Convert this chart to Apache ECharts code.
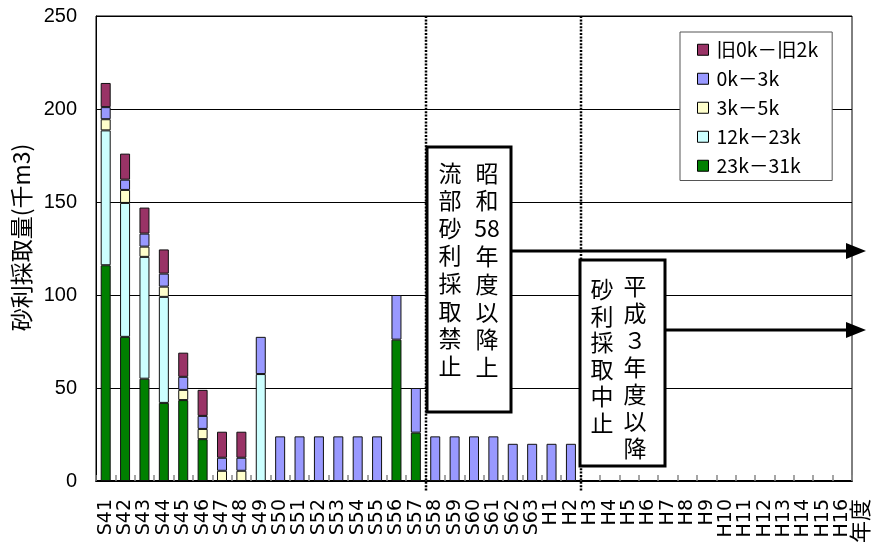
<!DOCTYPE html>
<html>
<head>
<meta charset="utf-8">
<script src="https://cdn.jsdelivr.net/npm/echarts@6/dist/echarts.min.js"></script>
<style>
  html, body { margin: 0; padding: 0; background: #fff; }
  #chart { width: 873px; height: 542px; }
</style>
</head>
<body>
<div id="chart"></div>
<script>
// 年度 (昭和41年度〜平成16年度)
const categories = [
  'S41','S42','S43','S44','S45','S46','S47','S48','S49','S50',
  'S51','S52','S53','S54','S55','S56','S57','S58','S59','S60',
  'S61','S62','S63','H1','H2','H3','H4','H5','H6','H7',
  'H8','H9','H10','H11','H12','H13','H14','H15','H16'
];

// 区間別の砂利採取量 (千m3)
const sec23k31k = [116, 77.5, 55, 42, 43.5, 22.5, null, null, null, null,
  null, null, null, null, null, 76, 26, null, null, null,
  null, null, null, null, null, null, null, null, null, null,
  null, null, null, null, null, null, null, null, null];
const sec12k23k = [72.5, 72, 65.5, 57, null, null, null, null, 57.5, null,
  null, null, null, null, null, null, null, null, null, null,
  null, null, null, null, null, null, null, null, null, null,
  null, null, null, null, null, null, null, null, null];
const sec3k5k = [6, 7, 5.5, 5.5, 5.5, 5.5, 5.5, 5.5, null, null,
  null, null, null, null, null, null, null, null, null, null,
  null, null, null, null, null, null, null, null, null, null,
  null, null, null, null, null, null, null, null, null];
const sec0k3k = [6.5, 5.5, 7, 7, 7, 7, 7, 7, 20, 24,
  24, 24, 24, 24, 24, 24, 24, 24, 24, 24,
  24, 20, 20, 20, 20, null, null, null, null, null,
  null, null, null, null, null, null, null, null, null];
const secOld0k2k = [13, 14, 14, 13, 13, 14, 14, 14, null, null,
  null, null, null, null, null, null, null, null, null, null,
  null, null, null, null, null, null, null, null, null, null,
  null, null, null, null, null, null, null, null, null];

const yTicks = { min: 0, max: 250, interval: 50 };

const seriesDefs = [
  { name: '23k－31k', data: sec23k31k, color: '#008000' },
  { name: '12k－23k', data: sec12k23k, color: '#CCFFFF' },
  { name: '3k－5k', data: sec3k5k, color: '#FFFFCC' },
  { name: '0k－3k', data: sec0k3k, color: '#9999FF' },
  { name: '旧0k－旧2k', data: secOld0k2k, color: '#993366' }
];

const JP = "'Noto Sans CJK JP', 'Noto Sans', sans-serif";
const NUM = "'Liberation Sans', Arial, sans-serif";
const WIDE = "'DejaVu Sans', 'Liberation Sans', sans-serif";

const chart = echarts.init(document.getElementById('chart'), null, { renderer: 'canvas' });

chart.setOption({
  animation: false,
  backgroundColor: '#fff',
  grid: {
    left: 96, right: 21, top: 16, bottom: 61,
    show: true, borderColor: '#000', borderWidth: 1, backgroundColor: '#fff'
  },
  legend: {
    data: seriesDefs.map(s => s.name).reverse(),
    orient: 'vertical',
    left: 680, top: 32,
    padding: [8, 14, 5, 17],
    itemGap: 9.5,
    itemWidth: 11, itemHeight: 11,
    icon: 'rect',
    backgroundColor: '#fff',
    borderColor: '#555', borderWidth: 1, borderRadius: 0,
    itemStyle: { borderColor: '#000', borderWidth: 1 },
    textStyle: { fontFamily: JP, fontSize: 19.5, lineHeight: 18, color: '#000', padding: [0, 0, 0, 3] }
  },
  xAxis: {
    type: 'category',
    data: categories,
    boundaryGap: true,
    axisLine: { lineStyle: { color: '#000', width: 2 } },
    axisTick: { show: true, inside: true, length: 6, interval: 0, lineStyle: { color: '#888', width: 1.5 } },
    axisLabel: {
      interval: 0, rotate: 90, margin: 18,
      fontFamily: WIDE, fontSize: 19, color: '#000'
    },
    splitLine: { show: false }
  },
  yAxis: {
    type: 'value',
    min: yTicks.min, max: yTicks.max, interval: yTicks.interval,
    name: '砂利採取量(千m3)',
    nameLocation: 'middle',
    nameRotate: 90,
    nameGap: 62,
    nameTextStyle: { fontFamily: JP, fontSize: 23, color: '#000', padding: [0, 0, 0, 22] },
    axisLine: { show: true, lineStyle: { color: '#000', width: 1 } },
    axisTick: { show: true, inside: true, length: 4, lineStyle: { color: '#000' } },
    axisLabel: { fontFamily: NUM, fontSize: 20, color: '#000', margin: 19 },
    splitLine: { show: true, lineStyle: { color: '#000', width: 1 } }
  },
  series: seriesDefs.map(s => ({
    name: s.name,
    type: 'bar',
    stack: 'total',
    data: s.data,
    barWidth: 10,
    itemStyle: { color: s.color, borderColor: '#111', borderWidth: 1 }
  }))
});

// 規制の区切り線・注記
function drawNotes() {
  const xa = c => chart.convertToPixel({ xAxisIndex: 0 }, c);
  const ya = v => chart.convertToPixel({ yAxisIndex: 0 }, v);
  const line1 = Math.round((xa('S57') + xa('S58')) / 2);
  const line2 = Math.round((xa('H2') + xa('H3')) / 2);
  const top = ya(250), bottom = ya(0);
  const arrowEnd = 866;

  const dotted = x => ({
    type: 'line', z: 50,
    shape: { x1: x, y1: top, x2: x, y2: bottom + 10 },
    style: { stroke: '#000', lineWidth: 2.5, lineDash: [2, 1.4] }
  });
  const arrow = (x, y) => ([
    { type: 'line', z: 60, shape: { x1: x, y1: y, x2: arrowEnd - 14, y2: y },
      style: { stroke: '#000', lineWidth: 3 } },
    { type: 'polygon', z: 60, shape: { points: [[arrowEnd - 20, y - 8], [arrowEnd, y], [arrowEnd - 20, y + 8]] },
      style: { fill: '#000' } }
  ]);
  const column = (x, y, text, lh) => ({
    type: 'text', z: 71, x: x, y: y,
    style: { text: text, fontFamily: JP, fontSize: 23, lineHeight: lh, fill: '#000',
      align: 'center', verticalAlign: 'top' }
  });

  const b1 = { x: line1 + 1, y: 147, w: 84, h: 265 };
  const b2 = { x: line2 - 1, y: 260, w: 85, h: 206 };

  chart.setOption({
    graphic: [
      dotted(line1), dotted(line2),
      ...arrow(b1.x + b1.w, 251),
      ...arrow(b2.x + b2.w, 330),
      { type: 'rect', z: 70, shape: { x: b1.x, y: b1.y, width: b1.w, height: b1.h },
        style: { fill: '#fff', stroke: '#000', lineWidth: 3 } },
      column(b1.x + 60, 159, '昭\n和\n58\n年\n度\n以\n降\n上', 27.8),
      column(b1.x + 23, 159, '流\n部\n砂\n利\n採\n取\n禁\n止', 27.6),
      { type: 'rect', z: 70, shape: { x: b2.x, y: b2.y, width: b2.w, height: b2.h },
        style: { fill: '#fff', stroke: '#000', lineWidth: 3 } },
      column(b2.x + 55, 273, '平\n成\n３\n年\n度\n以\n降', 27),
      column(b2.x + 22, 276, '砂\n利\n採\n取\n中\n止', 26.7),
      { type: 'text', z: 40, x: 860, y: 499, rotation: Math.PI / 2,
        style: { text: '年度', fontFamily: JP, fontSize: 22, fill: '#000',
          align: 'right', verticalAlign: 'middle' } }
    ]
  });
}
drawNotes();
</script>
</body>
</html>
